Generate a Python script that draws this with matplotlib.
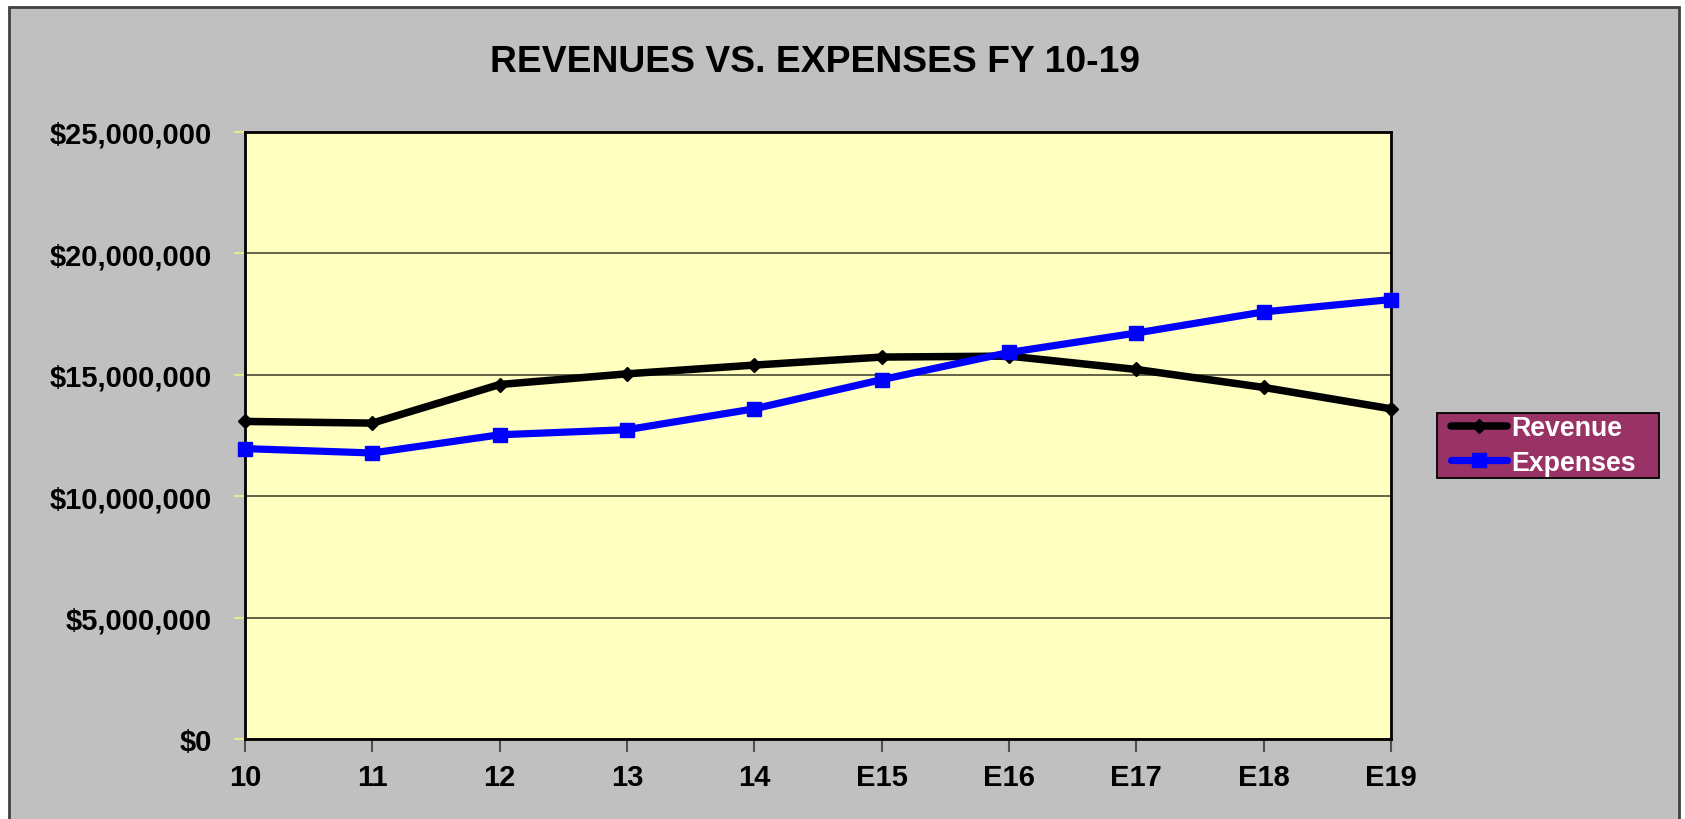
## Revenues vs Expenses FY 10-19
import matplotlib
matplotlib.use("Agg")
import matplotlib.pyplot as plt
from matplotlib.patches import Rectangle
from matplotlib.ticker import FuncFormatter

## data
years = ['10', '11', '12', '13', '14', 'E15', 'E16', 'E17', 'E18', 'E19']
revenue = [13080000, 13010000, 14600000, 15040000, 15400000,
           15730000, 15770000, 15220000, 14480000, 13600000]
expenses = [11960000, 11780000, 12530000, 12740000, 13600000,
            14800000, 15920000, 16720000, 17590000, 18100000]
y_ticks = [0, 5000000, 10000000, 15000000, 20000000, 25000000]

plt.rcParams['font.family'] = ['Liberation Sans', 'DejaVu Sans']
plt.rcParams['font.weight'] = 'bold'

W, H = 1685, 820
fig = plt.figure(figsize=(W / 100, H / 100), dpi=100, facecolor='white')

# gray chart area with dark border (runs past the bottom edge)
fig.patches.append(Rectangle((8.5 / W, -0.1), (1679 - 8.5) / W, 1.1 - 7.5 / H,
                             transform=fig.transFigure, facecolor='#C0C0C0',
                             edgecolor='#404040', linewidth=2, zorder=-10))
# legend box (drawn below the axes so the legend entries sit on top)
fig.patches.append(Rectangle((1437 / W, 1 - 479 / H), (1659 - 1437) / W, 65 / H,
                             transform=fig.transFigure, facecolor='#993366',
                             edgecolor='black', linewidth=1.3, zorder=-5))

ax = fig.add_axes([245 / W, 1 - 740 / H, (1391 - 245) / W, (740 - 133) / H])
ax.set_facecolor('#FFFFC0')

x = list(range(len(years)))
ax.plot(x, revenue, color='black', linewidth=5.4, marker='D', markersize=7.5,
        label='Revenue', zorder=3, clip_on=False,
        solid_joinstyle='round', solid_capstyle='round')
ax.plot(x, expenses, color='#0000FF', linewidth=5.2, marker='s', markersize=10.5,
        label='Expenses', zorder=4, clip_on=False,
        solid_joinstyle='round', solid_capstyle='round')

ax.set_xlim(0, len(years) - 1)
ax.set_ylim(0, 25000000)
ax.set_xticks(x)
ax.set_xticklabels(years)
ax.set_yticks(y_ticks)
ax.yaxis.set_major_formatter(FuncFormatter(lambda v, p: '${:,.0f}'.format(v)))
ax.grid(axis='y', color='#55553C', linewidth=1.3)
ax.set_axisbelow(True)

for s in ax.spines.values():
    s.set_color('black')
    s.set_linewidth(2)

ax.tick_params(axis='y', length=8, width=1.5, color='#E8E890', pad=16,
               labelsize=21)
ax.tick_params(axis='x', length=9, width=1.5, color='#505050', pad=8,
               labelsize=21)
for t in ax.get_xticklabels() + ax.get_yticklabels():
    t.set_fontweight('bold')

fig.text(814.5 / W, 1 - 71.5 / H, 'REVENUES VS. EXPENSES FY 10-19',
         ha='center', va='baseline', fontsize=26.8, fontweight='bold')

leg = ax.legend(loc='center left', bbox_to_anchor=(1451 / W, 1 - 446.5 / H),
                bbox_transform=fig.transFigure, frameon=False, fontsize=19.3,
                handlelength=2.1, handletextpad=0.15, labelspacing=0.3,
                borderpad=0, borderaxespad=0)
for t in leg.get_texts():
    t.set_color('white')
    t.set_fontweight('bold')

fig.savefig('out.png', dpi=100, facecolor=fig.get_facecolor())
